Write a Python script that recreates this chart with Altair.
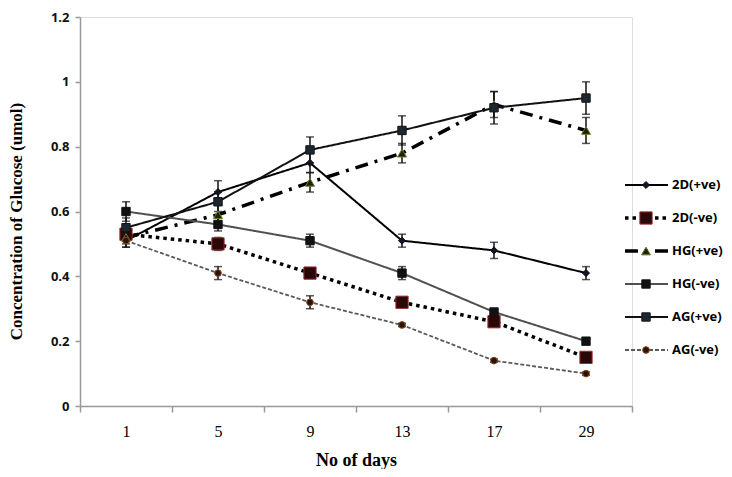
import altair as alt
import pandas as pd

days = ["1", "5", "9", "13", "17", "29"]
series = ["2D(+ve)", "2D(-ve)", "HG(+ve)", "HG(-ve)", "AG(+ve)", "AG(-ve)"]

v_2d_pos = [0.51, 0.66, 0.75, 0.51, 0.48, 0.41]
e_2d_pos = [0.02, 0.035, 0.03, 0.02, 0.025, 0.02]
v_2d_neg = [0.53, 0.50, 0.41, 0.32, 0.26, 0.15]
e_2d_neg = [0.02, 0.02, 0.015, 0.01, 0.01, 0.01]
v_hg_pos = [0.52, 0.59, 0.69, 0.78, 0.93, 0.85]
e_hg_pos = [0.02, 0.03, 0.03, 0.03, 0.04, 0.04]
v_hg_neg = [0.60, 0.56, 0.51, 0.41, 0.29, 0.20]
e_hg_neg = [0.03, 0.02, 0.02, 0.02, 0.01, 0.005]
v_ag_pos = [0.55, 0.63, 0.79, 0.85, 0.92, 0.95]
e_ag_pos = [0.03, 0.03, 0.04, 0.045, 0.05, 0.05]
v_ag_neg = [0.51, 0.41, 0.32, 0.25, 0.14, 0.10]
e_ag_neg = [0.02, 0.02, 0.02, 0.005, 0.005, 0.005]

values = [v_2d_pos, v_2d_neg, v_hg_pos, v_hg_neg, v_ag_pos, v_ag_neg]
errors = [e_2d_pos, e_2d_neg, e_hg_pos, e_hg_neg, e_ag_pos, e_ag_neg]

rows = []
for s, vals, errs in zip(series, values, errors):
    for d, v, e in zip(days, vals, errs):
        rows.append({"series": s, "day": d, "value": v, "lo": v - e, "hi": v + e})
df = pd.DataFrame(rows)
legend_df = pd.DataFrame({"series": series})

# styles (per series, same order)
line_colors = ["#000000", "#000000", "#000000", "#505050", "#111111", "#5a5a5a"]
dashes = [[1, 0], [3.5, 4], [13, 7, 3, 7], [1, 0], [1, 0], [4, 2]]
widths = [2, 3.5, 3.5, 2, 2, 1.8]
shapes = ["diamond", "square", "triangle-up", "square", "square", "circle"]
sizes = [50, 150, 80, 70, 70, 45]
fills = ["#141428", "#2a0808", "#1a2208", "#111111", "#1d2733", "#2a1505"]
strokes = ["#111111", "#9b2d2d", "#6b7b2a", "#111111", "#111111", "#8a4a20"]

x_enc = alt.X(
    "day:O",
    sort=days,
    scale=alt.Scale(type="band", domain=days, paddingInner=0, paddingOuter=0),
    axis=alt.Axis(
        title="No of days", titleFont="Liberation Serif", titleFontSize=18, titleFontWeight="bold",
        titleColor="#000", titlePadding=12,
        labelFont="Liberation Serif", labelFontSize=16, labelColor="#000", labelAngle=0,
        labelPadding=11, tickBand="extent", tickSize=6, tickColor="#999", domainColor="#999",
        domainWidth=1.5, tickWidth=1.5,
    ),
)
y_scale = alt.Scale(domain=[0, 1.2], nice=False, zero=True)
y_axis = alt.Axis(
    title="Concentration of Glucose (umol)", titleFont="Liberation Serif", titleFontSize=17,
    titleFontWeight="bold", titleColor="#000", titlePadding=25, titleY=204,
    values=[0, 0.2, 0.4, 0.6, 0.8, 1, 1.2], format="~g",
    labelFont="Open Sans", labelFontSize=13, labelFontWeight="bold", labelColor="#111",
    labelPadding=6, tickSize=5, tickColor="#999", domainColor="#999", domainWidth=1.5, tickWidth=1.5,
    grid=False,
)

base = alt.Chart(df)
x_plain = alt.X("day:O", sort=days)

main_layers = []
# lines
for i, s in enumerate(series):
    main_layers.append(
        base.transform_filter(alt.datum.series == s).mark_line(
            color=line_colors[i], strokeDash=dashes[i], strokeWidth=widths[i]
        ).encode(x=x_enc, y=alt.Y("value:Q", scale=y_scale, axis=y_axis))
    )
# error bars
main_layers.append(base.mark_rule(color="#111", strokeWidth=1.5).encode(x=x_plain, y="lo:Q", y2="hi:Q"))
main_layers.append(base.mark_tick(orient="horizontal", size=8, thickness=1.5, color="#111").encode(x=x_plain, y="lo:Q"))
main_layers.append(base.mark_tick(orient="horizontal", size=8, thickness=1.5, color="#111").encode(x=x_plain, y="hi:Q"))
# markers
for i, s in enumerate(series):
    main_layers.append(
        base.transform_filter(alt.datum.series == s).mark_point(
            shape=shapes[i], size=sizes[i], filled=True, fill=fills[i], stroke=strokes[i],
            strokeWidth=1, opacity=1
        ).encode(x=x_plain, y="value:Q")
    )

leg_y = alt.Y("series:N", scale=alt.Scale(type="point", domain=series, range=[168, 333], padding=0), axis=None)
leg_base = alt.Chart(legend_df)
legend_layers = []
for i, s in enumerate(series):
    sel = leg_base.transform_filter(alt.datum.series == s)
    legend_layers.append(
        sel.mark_rule(color=line_colors[i], strokeDash=dashes[i], strokeWidth=widths[i]).encode(
            y=leg_y, x=alt.value(545), x2=alt.value(588)
        )
    )
    legend_layers.append(
        sel.mark_point(shape=shapes[i], size=sizes[i], filled=True, fill=fills[i], stroke=strokes[i],
                       strokeWidth=1, opacity=1).encode(y=leg_y, x=alt.value(566))
    )
legend_layers.append(
    leg_base.mark_text(align="left", baseline="middle", font="Open Sans", fontSize=13,
                       fontWeight="bold", color="#000").encode(y=leg_y, x=alt.value(592), text="series:N")
)

chart = alt.layer(
    alt.layer(*main_layers), alt.layer(*legend_layers)
).resolve_scale(y="independent").properties(
    width=552, height=389,
    padding={"left": 72, "top": 9, "right": 92, "bottom": 63},
    autosize=alt.AutoSizeParams(type="none"),
).configure_view(stroke=None).configure(background="white")

chart.save("out.html", embed_options={"renderer": "svg", "actions": False})
